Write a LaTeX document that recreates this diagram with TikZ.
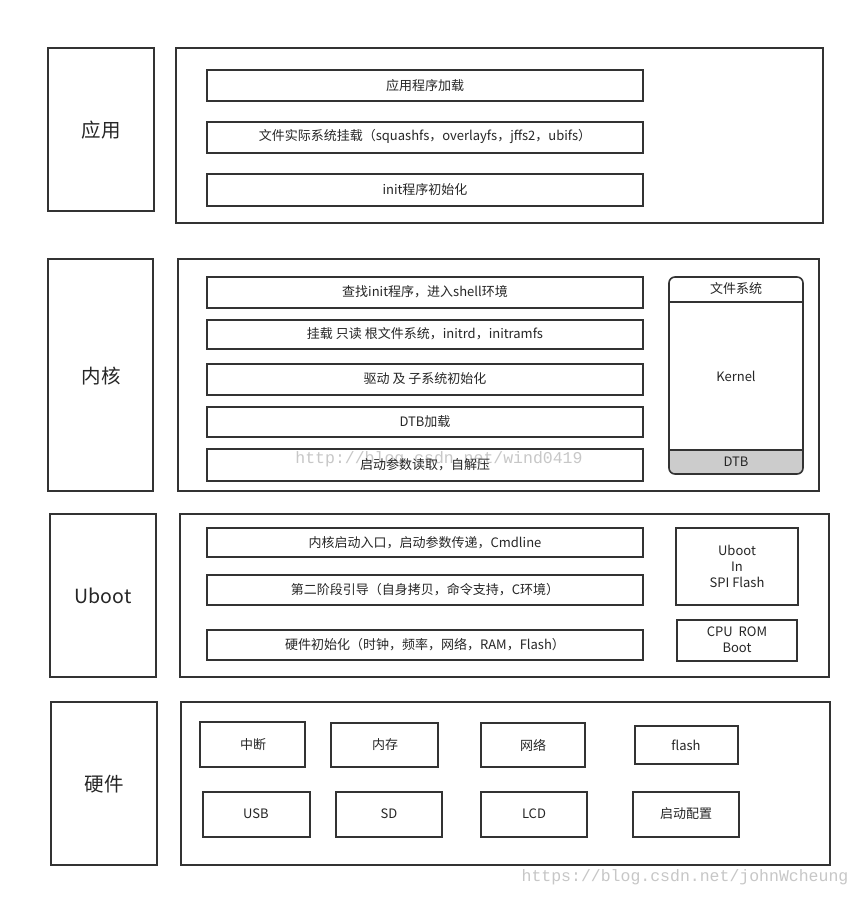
\documentclass[tikz,border=0pt]{standalone}
\usepackage{fontspec}
\setmainfont{Noto Sans CJK SC}
\newfontfamily\wmfont{Liberation Mono}
\begin{document}
\begin{tikzpicture}[x=1pt,y=-1pt,
  box/.style={draw=black!80,line width=1.6pt},
  lbl/.style={font=\fontsize{19.5}{22}\selectfont,text=black!85},
  txt/.style={font=\fontsize{13}{16}\selectfont,text=black!85},
  wm/.style={font=\wmfont\fontsize{16.5}{18}\selectfont,text=black!22}]
\useasboundingbox (0,0) rectangle (861,897);
\fill[white] (0,0) rectangle (861,897);
% Application layer
\draw[box] (48,48) rectangle (154,211);
\node[lbl] (app) at (101,130) {应用};
\draw[box] (176,48) rectangle (823,223);
\draw[box] (207,70) rectangle (643,101);
\node[txt] (a1) at (425,86) {应用程序加载};
\draw[box] (207,122) rectangle (643,153);
\node[txt] (a2) at (425,137) {文件实际系统挂载（squashfs，overlayfs，jffs2，ubifs）};
\draw[box] (207,174) rectangle (643,206);
\node[txt] (a3) at (425,190) {init程序初始化};
% Kernel layer
\draw[box] (48,259) rectangle (153,491);
\node[lbl] (ker) at (101,376) {内核};
\draw[box] (178,259) rectangle (819,491);
\draw[box] (207,277) rectangle (643,308);
\node[txt] (k1) at (425,292) {查找init程序，进入shell环境};
\draw[box] (207,320) rectangle (643,349);
\node[txt] (k2) at (425,334) {挂载 只读 根文件系统，initrd，initramfs};
\draw[box] (207,364) rectangle (643,395);
\node[txt] (k3) at (425,379) {驱动 及 子系统初始化};
\draw[box] (207,407) rectangle (643,437);
\node[txt] (k4) at (425,422) {DTB加载};
\draw[box] (207,449) rectangle (643,481);
\node[wm] (w1) at (439,459) {http://blog.csdn.net/wind0419};
\node[txt] (k5) at (425,465) {启动参数读取，自解压};
\fill[black!20,rounded corners=6pt] (669,450) -- (669,474) -- (803,474) -- (803,450) -- cycle;
\fill[black!20] (669,450) rectangle (803,462);
\draw[box,rounded corners=6pt] (669,277) rectangle (803,474);
\draw[box] (669,302) -- (803,302);
\draw[box] (669,450) -- (803,450);
\node[txt] (fs) at (736,289) {文件系统};
\node[txt] (kn) at (736,376) {Kernel};
\node[txt] (dtb) at (736,462) {DTB};
% Uboot layer
\draw[box] (50,514) rectangle (156,677);
\node[lbl] (ub) at (103,596) {Uboot};
\draw[box] (180,514) rectangle (829,677);
\draw[box] (207,528) rectangle (643,557);
\node[txt] (u1) at (425,543) {内核启动入口，启动参数传递，Cmdline};
\draw[box] (207,575) rectangle (643,605);
\node[txt] (u2) at (425,590) {第二阶段引导（自身拷贝，命令支持，C环境）};
\draw[box] (207,630) rectangle (643,660);
\node[txt] (u3) at (425,645) {硬件初始化（时钟，频率，网络，RAM，Flash）};
\draw[box] (676,528) rectangle (798,605);
\node[txt,align=center,font=\fontsize{13}{16}\selectfont] (spi) at (737,566) {Uboot\\In\\SPI Flash};
\draw[box] (677,620) rectangle (797,661);
\node[txt,align=center,font=\fontsize{13}{16}\selectfont] (rom) at (737,640) {CPU\ \ ROM\\Boot};
% Hardware layer
\draw[box] (51,702) rectangle (157,865);
\node[lbl] (hw) at (104,784) {硬件};
\draw[box] (181,702) rectangle (830,865);
\draw[box] (200,722) rectangle (305,767);
\node[txt] (h1) at (253,745) {中断};
\draw[box] (331,723) rectangle (438,767);
\node[txt] (h2) at (385,745) {内存};
\draw[box] (481,723) rectangle (585,767);
\node[txt] (h3) at (533,745) {网络};
\draw[box] (635,726) rectangle (738,764);
\node[txt] (h4) at (686,745) {flash};
\draw[box] (203,792) rectangle (310,837);
\node[txt] (h5) at (256,814) {USB};
\draw[box] (336,792) rectangle (442,837);
\node[txt] (h6) at (389,814) {SD};
\draw[box] (481,792) rectangle (587,837);
\node[txt] (h7) at (534,814) {LCD};
\draw[box] (633,792) rectangle (739,837);
\node[txt] (h8) at (686,814) {启动配置};
\node[wm] (w2) at (685,877) {https://blog.csdn.net/johnWcheung};
\end{tikzpicture}
\end{document}
